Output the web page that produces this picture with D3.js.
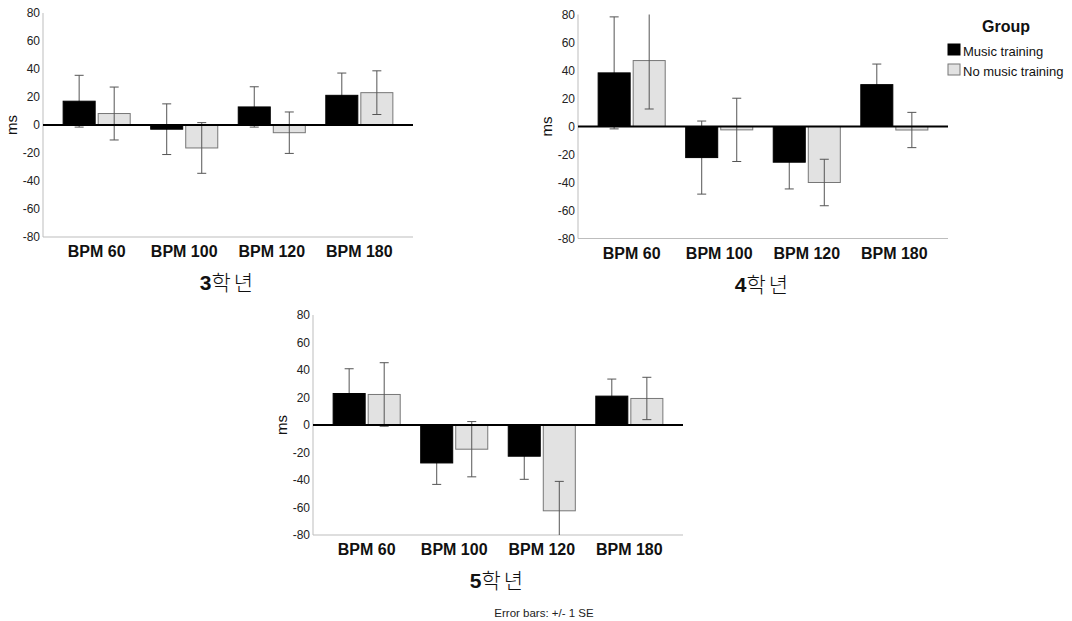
<!DOCTYPE html>
<html>
<head>
  <meta charset="utf-8">
  <title>Grade charts</title>
  <style type="text/css">
    body {
      margin: 0;
      background-color: #fff;
    }
    svg {
      display: block;
      font-family: Arial, "Liberation Sans", "Noto Sans CJK KR", sans-serif;
    }
    .tick-label {
      font-size: 12px;
      fill: #222;
    }
    .cat-label {
      font-size: 16px;
      font-weight: bold;
      fill: #111;
    }
  </style>
  <script src="https://d3js.org/d3.v7.min.js"></script>
</head>
<body>
<script>
var categories = ["BPM 60", "BPM 100", "BPM 120", "BPM 180"];
var groups = ["Music training", "No music training"];
var yTicks = [80, 60, 40, 20, 0, -20, -40, -60, -80];

// means and standard errors, [music, no music] per category
var grade3Mean = [[17, 8.2], [-3, -16.4], [12.9, -5.5], [21.2, 23.1]];
var grade3SE   = [[18.5, 18.9], [18.1, 18.1], [14.4, 14.8], [15.9, 15.6]];
var grade4Mean = [[38.3, 47.1], [-22.2, -2.4], [-25.5, -40], [29.9, -2.5]];
var grade4SE   = [[40, 34.6], [26.1, 22.6], [19.1, 16.6], [14.7, 12.6]];
var grade5Mean = [[22.9, 22.2], [-27.6, -17.6], [-22.7, -62.4], [21, 19.3]];
var grade5SE   = [[18, 23.1], [15.6, 20.1], [16.8, 21.4], [12.4, 15.4]];

var fills = ["#000000", "#e2e2e2"];
var strokes = ["#000000", "#777777"];

var svg = d3.select("body").append("svg")
  .attr("width", 1072)
  .attr("height", 621);

function drawPanel(grade, means, ses, left, top, height) {
  var width = 370;
  var g = svg.append("g").attr("transform", "translate(" + left + "," + top + ")");

  var y = d3.scaleLinear().domain([-80, 80]).range([height, 0]);
  var x0 = d3.scaleBand().domain(categories).range([0, width])
    .paddingInner(0.234).paddingOuter(0.23);
  var x1 = d3.scaleBand().domain(groups).range([0, x0.bandwidth()])
    .paddingInner(0.086);

  // axes lines
  g.append("line").attr("x1", 0).attr("x2", 0).attr("y1", 0).attr("y2", height)
    .attr("stroke", "#bdbdbd");
  g.append("line").attr("x1", 0).attr("x2", width).attr("y1", height).attr("y2", height)
    .attr("stroke", "#bdbdbd");

  var yaxis = d3.axisLeft(y).tickValues(yTicks).tickSize(0).tickPadding(3)
    .tickFormat(function(d) { return String(d); });
  var ya = g.append("g").call(yaxis);
  ya.select(".domain").remove();
  ya.selectAll("text").attr("class", "tick-label").attr("font-family", null).attr("font-size", null);

  g.selectAll("text.cat-label")
    .data(categories)
    .enter().append("text")
      .attr("class", "cat-label")
      .attr("text-anchor", "middle")
      .attr("x", function(d) { return x0(d) + x0.bandwidth() / 2; })
      .attr("y", height + 20)
      .text(function(d) { return d; });

  var rows = [];
  categories.forEach(function(c, i) {
    groups.forEach(function(gr, j) {
      rows.push({cat: c, group: gr, j: j, mean: means[i][j], se: ses[i][j]});
    });
  });

  function errorBars(data) {
    var err = g.selectAll(null)
      .data(data)
      .enter().append("g")
        .attr("stroke", "#555")
        .attr("stroke-width", 1);
    err.each(function(d) {
      var cx = x0(d.cat) + x1(d.group) + x1.bandwidth() / 2;
      var hi = d.mean + d.se, lo = d.mean - d.se;
      var sel = d3.select(this);
      sel.append("line").attr("x1", cx).attr("x2", cx)
        .attr("y1", y(Math.min(hi, 80))).attr("y2", y(Math.max(lo, -80)));
      [hi, lo].forEach(function(v) {
        if (v <= 80 && v >= -80) {
          sel.append("line").attr("x1", cx - 4.5).attr("x2", cx + 4.5)
            .attr("y1", y(v)).attr("y2", y(v));
        }
      });
    });
  }

  // music bars hide their error line, no-music bars show it
  errorBars(rows.filter(function(d) { return d.j === 0; }));

  g.selectAll("rect.bar")
    .data(rows)
    .enter().append("rect")
      .attr("class", "bar")
      .attr("x", function(d) { return x0(d.cat) + x1(d.group); })
      .attr("width", x1.bandwidth())
      .attr("y", function(d) { return y(Math.max(0, d.mean)); })
      .attr("height", function(d) { return Math.abs(y(d.mean) - y(0)); })
      .attr("fill", function(d) { return fills[d.j]; })
      .attr("stroke", function(d) { return strokes[d.j]; })
      .attr("stroke-width", 1);

  errorBars(rows.filter(function(d) { return d.j === 1; }));

  // zero reference line
  g.append("line").attr("x1", 0).attr("x2", width).attr("y1", y(0)).attr("y2", y(0))
    .attr("stroke", "#000").attr("stroke-width", 2);

  g.append("text")
    .attr("transform", "translate(-31," + y(0) + ") rotate(-90)")
    .attr("text-anchor", "middle")
    .attr("dy", "0.35em")
    .style("font-size", "15px")
    .style("fill", "#111")
    .text("ms");

  var t = g.append("text")
    .attr("x", width / 2)
    .attr("y", height + 53)
    .attr("text-anchor", "middle")
    .style("font-size", "21px")
    .style("fill", "#111");
  t.append("tspan").style("font-weight", "bold").text(grade);
  t.append("tspan").style("letter-spacing", "3px").style("font-weight", "300").text("학년");
}

drawPanel("3", grade3Mean, grade3SE, 43, 13, 224);
drawPanel("4", grade4Mean, grade4SE, 578, 14.5, 224);
drawPanel("5", grade5Mean, grade5SE, 313, 315, 220);

// legend
var legend = svg.append("g");
legend.append("text")
  .attr("x", 1006).attr("y", 32)
  .attr("text-anchor", "middle")
  .style("font-size", "16px").style("font-weight", "bold").style("fill", "#111")
  .text("Group");
var items = legend.selectAll("g.item")
  .data(groups)
  .enter().append("g")
    .attr("class", "item")
    .attr("transform", function(d, i) { return "translate(948," + (44 + i * 20) + ")"; });
items.append("rect")
  .attr("width", 12).attr("height", 11)
  .attr("fill", function(d, i) { return fills[i]; })
  .attr("stroke", function(d, i) { return strokes[i]; });
items.append("text")
  .attr("x", 15).attr("y", 12)
  .style("font-size", "13px").style("fill", "#111")
  .text(function(d) { return d; });

svg.append("text")
  .attr("x", 544).attr("y", 617)
  .attr("text-anchor", "middle")
  .style("font-size", "11.5px").style("fill", "#222")
  .text("Error bars: +/- 1 SE");
</script>
</body>
</html>
